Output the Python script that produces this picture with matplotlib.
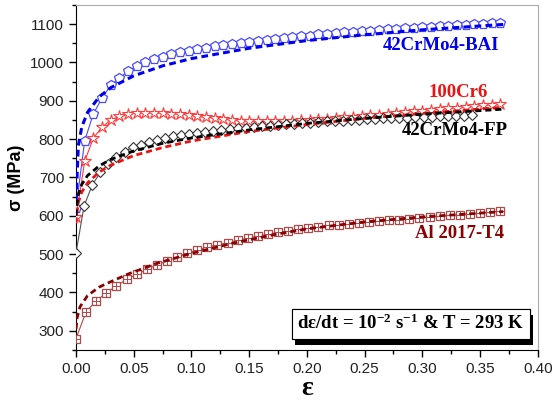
import numpy as np
import matplotlib
matplotlib.use("Agg")
import matplotlib.pyplot as plt
import matplotlib.patheffects as pe
from matplotlib.ticker import MultipleLocator, FormatStrFormatter

# ---- data (strain, MPa) ----
# 42CrMo4-BAI, experimental points
bai_strain = [0.0075 * i for i in range(50)]
bai_stress = [620, 796, 866, 907, 940, 959, 977, 991, 1001, 1009,
              1015, 1022, 1028, 1031, 1036, 1038, 1043, 1046, 1049, 1051,
              1054, 1056, 1059, 1061, 1063, 1066, 1068, 1070, 1073, 1075,
              1077, 1078, 1080, 1082, 1083, 1085, 1086, 1088, 1089, 1090,
              1092, 1093, 1094, 1096, 1097, 1098, 1099, 1101, 1102, 1104]
bai_fit_strain = [0.0, 0.002, 0.005, 0.01, 0.02, 0.03, 0.05, 0.075, 0.1,
                  0.15, 0.2, 0.25, 0.3, 0.37]
bai_fit_stress = [640, 783, 832, 870, 910, 934, 965, 991, 1010,
                  1037, 1057, 1072, 1085, 1099]

# 100Cr6
cr6_strain = [0.0075 * i for i in range(50)]
cr6_stress = [596, 742, 803, 831, 850, 859, 865, 868, 869, 869,
              868, 866, 866, 863, 859, 857, 855, 852, 850, 848,
              847, 846, 846, 846, 847, 848, 849, 850, 852, 853,
              855, 857, 858, 860, 862, 864, 866, 868, 870, 872,
              874, 876, 878, 880, 882, 884, 886, 888, 890, 892]
cr6_fit_strain = [0.0, 0.0005, 0.002, 0.005, 0.01, 0.02, 0.03, 0.05, 0.075,
                  0.1, 0.15, 0.2, 0.25, 0.3, 0.37]
cr6_fit_stress = [580, 602, 635, 662, 686, 714, 732, 757, 778,
                  795, 820, 838, 854, 867, 883]

# 42CrMo4-FP
fp_strain = [0.007 * i for i in range(50)]
fp_stress = [504, 626, 680, 713, 735, 754, 767, 779, 785, 792,
             798, 802, 807, 810, 813, 815, 819, 821, 824, 826,
             828, 830, 832, 834, 835, 837, 839, 840, 842, 843,
             845, 846, 847, 848, 849, 851, 852, 853, 854, 855,
             855, 856, 857, 858, 858, 859, 860, 861, 861, 862]
fp_fit_strain = [0.0, 0.0005, 0.002, 0.005, 0.01, 0.02, 0.03, 0.05, 0.075,
                 0.1, 0.15, 0.2, 0.25, 0.3, 0.37]
fp_fit_stress = [600, 623, 656, 682, 705, 730, 747, 769, 789,
                 803, 824, 841, 854, 865, 878]

# Al 2017-T4
al_strain = [0.00875 * i for i in range(43)]
al_stress = [280, 350, 378, 399, 417, 434, 447, 460, 472, 482,
             492, 502, 510, 518, 524, 530, 536, 542, 547, 552,
             557, 560, 565, 569, 572, 575, 577, 579, 581, 584,
             586, 588, 590, 592, 594, 596, 599, 601, 603, 605,
             607, 610, 612]
al_fit_strain = [0.0, 0.001, 0.0035, 0.01, 0.02, 0.03, 0.045, 0.07, 0.1,
                 0.135, 0.17, 0.2, 0.25, 0.3, 0.37]
al_fit_stress = [305, 335, 363, 392, 414, 428, 448, 476, 502,
                 528, 550, 566, 584, 597, 611]

serif = "Liberation Serif"
sans = "Liberation Sans"
plt.rcParams["mathtext.fontset"] = "custom"
plt.rcParams["mathtext.rm"] = "Liberation Serif:bold"
plt.rcParams["mathtext.it"] = "Liberation Serif:bold"
plt.rcParams["mathtext.bf"] = "Liberation Serif:bold"

fig = plt.figure(figsize=(5.55, 4.07), dpi=100)
ax = fig.add_axes([0.137, 0.140, 0.832, 0.848])

# experimental curves
ax.plot(bai_strain, bai_stress, color="#4a4aff", lw=0.8, marker="p", ms=7.5,
        mfc="white", mec="#4a4aff", mew=0.9, zorder=3)
ax.plot(cr6_strain, cr6_stress, color="#ff3b3b", lw=0.8, marker="*", ms=9,
        mfc="white", mec="#ff3b3b", mew=0.8, zorder=3)
ax.plot(fp_strain, fp_stress, color="#555555", lw=0.8, marker="D", ms=5.5,
        mfc="white", mec="#333333", mew=0.8, zorder=3)
ax.plot(al_strain, al_stress, color="#b04848", lw=0.8, marker="s", ms=6,
        mfc="white", mec="#b04848", mew=0.9, zorder=3)
ax.plot(al_strain, al_stress, ls="none", marker="+", ms=6, mec="#b04848",
        mew=0.7, zorder=4)

# model curves (dashed)
dash = (0, (2.2, 1.4))
ax.plot(bai_fit_strain, bai_fit_stress, color="#0000ee", lw=2.2, ls=dash, zorder=4)
ax.plot(cr6_fit_strain, cr6_fit_stress, color="#ee1111", lw=2.0, ls=dash, zorder=4)
ax.plot(fp_fit_strain, fp_fit_stress, color="black", lw=2.0, ls=dash, zorder=4)
ax.plot(al_fit_strain, al_fit_stress, color="#8b0000", lw=2.0, ls=dash, zorder=4)

# material labels
lab = dict(fontsize=13.5, fontweight="bold", family=serif, ha="right", va="center")
ax.text(0.367, 1043, "42CrMo4-BAI", color="#0000ee", **lab)
ax.text(0.357, 922, "100Cr6", color="#ee1111", **lab)
ax.text(0.374, 822, "42CrMo4-FP", color="black", **lab)
ax.text(0.371, 553, "Al 2017-T4", color="#8b0000", **lab)

# test conditions box with shadow
t = ax.text(0.290, 319, r"d$\varepsilon$/dt = 10$^{-2}$ s$^{-1}$ & T = 293 K",
            fontsize=13.5, fontweight="bold", family=serif, ha="center", va="center",
            zorder=6,
            bbox=dict(boxstyle="square,pad=0.28", fc="white", ec="black", lw=0.8))
t.get_bbox_patch().set_path_effects(
    [pe.withSimplePatchShadow(offset=(2.5, -4.5), shadow_rgbFace="black", alpha=1.0),
     pe.Normal()])

ax.set_xlim(0, 0.40)
ax.set_ylim(250, 1150)
ax.xaxis.set_major_locator(MultipleLocator(0.05))
ax.xaxis.set_minor_locator(MultipleLocator(0.025))
ax.yaxis.set_minor_locator(MultipleLocator(50))
ax.set_yticks(range(300, 1101, 100))
ax.xaxis.set_major_formatter(FormatStrFormatter("%.2f"))
ax.tick_params(which="major", direction="out", length=5, width=1, labelsize=11,
               labelcolor="#222222")
ax.tick_params(which="minor", direction="out", length=3, width=1)
for lbl in ax.get_xticklabels() + ax.get_yticklabels():
    lbl.set_family(sans)

ax.spines["left"].set_color("black")
ax.spines["bottom"].set_color("black")
ax.spines["top"].set_color("#aaaaaa")
ax.spines["right"].set_color("#aaaaaa")

ax.set_xlabel("\u03b5", fontsize=20, fontweight="bold", family=serif, labelpad=0)
ax.set_ylabel("\u03c3 (MPa)", fontsize=13, fontweight="bold", family=sans, labelpad=4)

fig.savefig("out.png", dpi=100)
